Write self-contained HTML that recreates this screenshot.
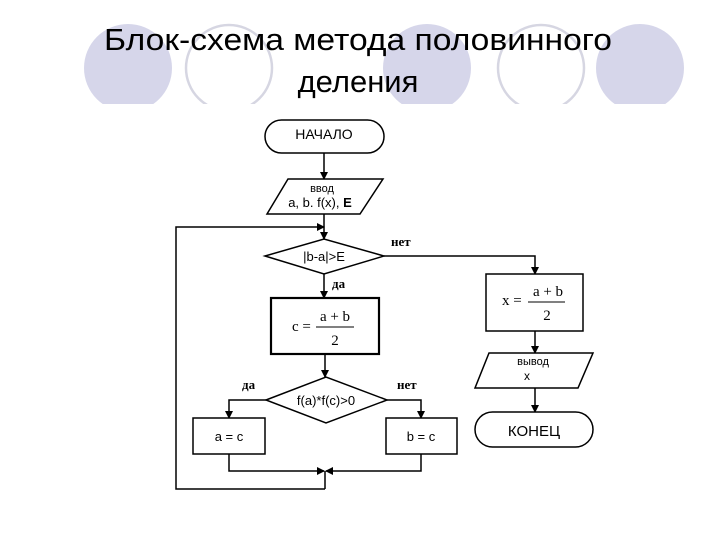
<!DOCTYPE html>
<html><head><meta charset="utf-8"><style>
html,body{margin:0;padding:0;background:#fff;width:720px;height:540px;overflow:hidden}
svg{display:block}
</style></head><body>
<svg width="720" height="540" viewBox="0 0 720 540" xmlns="http://www.w3.org/2000/svg">
<defs>
<clipPath id="cl"><rect x="0" y="0" width="720" height="104"/></clipPath>
<marker id="ar" markerWidth="8" markerHeight="8" refX="7" refY="4" orient="auto" markerUnits="userSpaceOnUse"><path d="M0,0 L8,4 L0,8 z" fill="#000"/></marker>
</defs>
<g clip-path="url(#cl)">
<circle cx="128" cy="68" r="44" fill="#d6d6ea"/>
<circle cx="229" cy="68" r="43" fill="none" stroke="#d6d6e2" stroke-width="2.5"/>
<circle cx="427" cy="68" r="44" fill="#d6d6ea"/>
<circle cx="541" cy="68" r="43" fill="none" stroke="#d6d6e2" stroke-width="2.5"/>
<circle cx="640" cy="68" r="44" fill="#d6d6ea"/>
</g>
<g font-family="Liberation Sans, DejaVu Sans, sans-serif" fill="#000">
<text x="104" y="50" font-size="31" textLength="508" lengthAdjust="spacingAndGlyphs">Блок-схема метода половинного</text>
<text x="358" y="92" font-size="31" text-anchor="middle">деления</text>
</g>
<g stroke="#000" stroke-width="1.5" fill="none">
<rect x="265" y="120" width="119" height="33" rx="16.5" fill="#fff"/>
<line x1="324" y1="153" x2="324" y2="179" marker-end="url(#ar)"/>
<polygon points="288,179 383,179 360,214 267,214" fill="#fff"/>
<line x1="324" y1="214" x2="324" y2="239" marker-end="url(#ar)"/>
<polyline points="325,489 176,489 176,227 324,227" marker-end="url(#ar)"/>
<polygon points="265,256 324,239 384,256 324,274" fill="#fff"/>
<polyline points="384,256 535,256 535,274" marker-end="url(#ar)"/>
<rect x="486" y="274" width="97" height="57" fill="#fff"/>
<line x1="535" y1="331" x2="535" y2="353" marker-end="url(#ar)"/>
<polygon points="489,353 593,353 578,388 475,388" fill="#fff"/>
<line x1="535" y1="388" x2="535" y2="412" marker-end="url(#ar)"/>
<rect x="475" y="412" width="118" height="35" rx="17.5" fill="#fff"/>
<line x1="324" y1="274" x2="324" y2="298" marker-end="url(#ar)"/>
<rect x="271" y="298" width="108" height="56" fill="#fff" stroke-width="2.2"/>
<line x1="325" y1="354" x2="325" y2="377" marker-end="url(#ar)"/>
<polygon points="266,400 326,377 387,400 326,423" fill="#fff"/>
<polyline points="266,400 229,400 229,418" marker-end="url(#ar)"/>
<polyline points="387,400 421,400 421,418" marker-end="url(#ar)"/>
<rect x="193" y="418" width="72" height="36" fill="#fff"/>
<rect x="386" y="418" width="71" height="36" fill="#fff"/>
<polyline points="229,454 229,471 324,471" marker-end="url(#ar)"/>
<polyline points="421,454 421,471 326,471" marker-end="url(#ar)"/>
<line x1="325" y1="471" x2="325" y2="489"/>
</g>
<g font-family="Liberation Sans, DejaVu Sans, sans-serif" fill="#000" font-size="13">
<text x="324" y="139" text-anchor="middle" font-size="14">НАЧАЛО</text>
<text x="322" y="192" text-anchor="middle" font-size="11">ввод</text>
<text x="320" y="207" text-anchor="middle">a, b. f(x), <tspan font-weight="bold">E</tspan></text>
<text x="324" y="261" text-anchor="middle">|b-a|&gt;E</text>
<text x="326" y="405" text-anchor="middle">f(a)*f(c)&gt;0</text>
<text x="229" y="441" text-anchor="middle">a = c</text>
<text x="421" y="441" text-anchor="middle">b = c</text>
<text x="533" y="365" text-anchor="middle" font-size="11">вывод</text>
<text x="527" y="380" text-anchor="middle" font-size="12">x</text>
<text x="534" y="436" text-anchor="middle" font-size="15">КОНЕЦ</text>
</g>
<g font-family="Liberation Serif, DejaVu Serif, serif" fill="#000" font-size="13">
<text x="391" y="246" font-weight="bold">нет</text>
<text x="332" y="288" font-weight="bold">да</text>
<text x="242" y="389" font-weight="bold">да</text>
<text x="397" y="389" font-weight="bold">нет</text>
<text x="292" y="331" font-size="15">c =</text>
<text x="335" y="321" text-anchor="middle" font-size="15">a + b</text>
<line x1="316" y1="327" x2="354" y2="327" stroke="#000" stroke-width="1"/>
<text x="335" y="345" text-anchor="middle" font-size="15">2</text>
<text x="502" y="305" font-size="15">x =</text>
<text x="548" y="296" text-anchor="middle" font-size="15">a + b</text>
<line x1="528" y1="302" x2="565" y2="302" stroke="#000" stroke-width="1"/>
<text x="547" y="320" text-anchor="middle" font-size="15">2</text>
</g>
</svg>
</body></html>
